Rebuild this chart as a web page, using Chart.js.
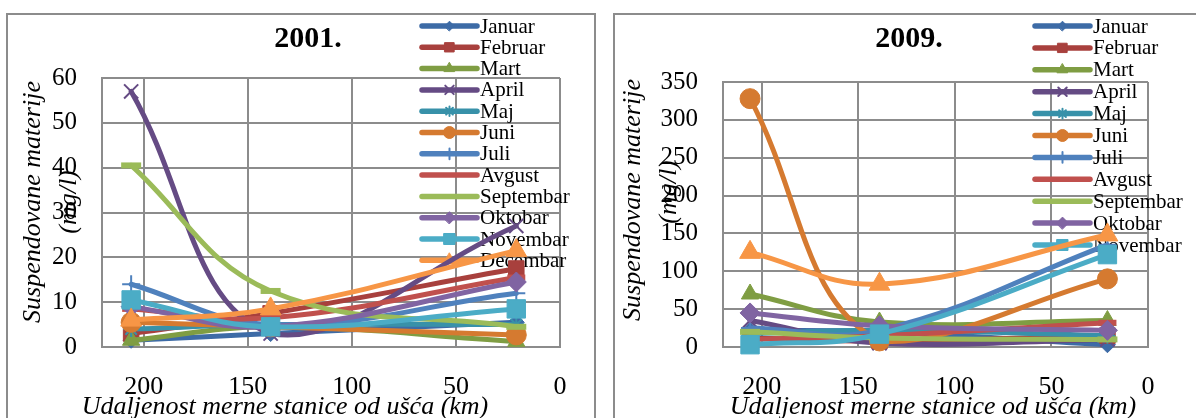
<!DOCTYPE html>
<html>
<head>
<meta charset="utf-8">
<script src="https://cdn.jsdelivr.net/npm/chart.js"></script>
<style>
  html, body { margin: 0; padding: 0; background: #fff; overflow: hidden; }
  body { width: 1196px; height: 418px; position: relative; }
  .okvir { position: absolute; border: 2px solid #8c8c8c; box-sizing: border-box; }
  canvas { position: absolute; top: 0; }
</style>
</head>
<body>
<div class="okvir" style="left:6px; top:13px; width:590px; height:420px;"></div>
<div class="okvir" style="left:613px; top:13px; width:600px; height:420px;"></div>
<canvas id="grafik2001" width="598" height="418" style="left:0"></canvas>
<canvas id="grafik2009" width="598" height="418" style="left:598px"></canvas>

<script>
// merne stanice, udaljenost od ušća (km)
const stanice = [206, 139, 21];
const meseci = ['Januar', 'Februar', 'Mart', 'April', 'Maj', 'Juni', 'Juli',
                'Avgust', 'Septembar', 'Oktobar', 'Novembar', 'Decembar'];

// suspendovane materije (mg/l) - 2001.
const januar2001    = [1.5, 3, 5.5];
const februar2001   = [3, 7.5, 17.5];
const mart2001      = [1.5, 4.5, 1.2];
const april2001     = [57, 3, 27];
const maj2001       = [4, 5, 5];
const juni2001      = [5.5, 4.5, 2.7];
const juli2001      = [14, 5, 12];
const avgust2001    = [8.5, 6.5, 15.5];
const septembar2001 = [40.5, 12.5, 4.5];
const oktobar2001   = [9, 4.5, 14.5];
const novembar2001  = [10.5, 4.5, 8.5];
const decembar2001  = [6, 8.5, 21.5];

// suspendovane materije (mg/l) - 2009.
const januar2009    = [22, 20, 3];
const februar2009   = [12, 8, 15];
const mart2009      = [70, 33, 35];
const april2009     = [35, 5, 10];
const maj2009       = [18, 22, 15];
const juni2009      = [328, 8, 90];
const juli2009      = [25, 22, 135];
const avgust2009    = [10, 15, 32];
const septembar2009 = [20, 12, 10];
const oktobar2009   = [45, 28, 22];
const novembar2009  = [3, 17, 122];
const decembar2009  = [125, 83, 148];

const serije2001 = [januar2001, februar2001, mart2001, april2001, maj2001, juni2001,
                    juli2001, avgust2001, septembar2001, oktobar2001, novembar2001, decembar2001];
const serije2009 = [januar2009, februar2009, mart2009, april2009, maj2009, juni2009,
                    juli2009, avgust2009, septembar2009, oktobar2009, novembar2009, decembar2009];

const boje = ['#3d6ba6', '#a8403d', '#7f9d43', '#654b84', '#3891a9', '#d57a30',
              '#4f81bd', '#c0504d', '#9bbb59', '#8064a2', '#4bacc6', '#f79646'];
const markeri = ['rectRot', 'rect', 'triangle', 'crossRot', 'star', 'circle',
                 'cross', 'line', 'line', 'rectRot', 'rect', 'triangle'];
const velicine = [8, 11, 10, 10, 8, 10, 9, 9, 10, 10, 13, 12];
const debljine = [1, 1, 1, 2, 2, 1, 2, 6, 6, 1, 1, 1];

const FONT = '"Liberation Serif", "Times New Roman", serif';

// naslovi, legenda i nazivi osa
const ukras = {
  id: 'ukras',
  beforeDatasetsDraw(chart, args, o) {
    const ctx = chart.ctx;
    ctx.save();
    ctx.font = '21px ' + FONT;
    ctx.textBaseline = 'middle';
    ctx.textAlign = 'left';
    chart.data.datasets.slice(0, o.legendaBroj).forEach((ds, i) => {
      const y = o.legendaY + i * o.legendaKorak;
      ctx.strokeStyle = ds.borderColor;
      ctx.fillStyle = ds.borderColor;
      ctx.lineWidth = 5.5;
      ctx.lineCap = 'round';
      ctx.beginPath();
      ctx.moveTo(o.legendaX, y);
      ctx.lineTo(o.legendaX + 55, y);
      ctx.stroke();
      ctx.lineWidth = Math.min(ds.pointBorderWidth, 2);
      Chart.helpers.drawPoint(ctx, {
        pointStyle: ds.pointStyle,
        radius: ds.pointRadius * 0.6,
        borderWidth: ctx.lineWidth,
        rotation: 0
      }, o.legendaX + 27.5, y);
      ctx.fillStyle = '#000';
      ctx.fillText(ds.label, o.legendaX + 58, y + 1);
    });
    ctx.restore();
  },
  afterDraw(chart, args, o) {
    const ctx = chart.ctx;
    ctx.save();
    ctx.fillStyle = '#000';
    ctx.textAlign = 'center';
    ctx.textBaseline = 'alphabetic';

    ctx.font = 'bold 30px ' + FONT;
    ctx.fillText(o.naslov, o.naslovX, 47);

    ctx.font = 'italic 26px ' + FONT;
    ctx.fillText('Udaljenost merne stanice od ušća (km)', o.xNazivX, 414);

    ctx.translate(o.yNazivX, o.yNazivY);
    ctx.rotate(-Math.PI / 2);
    ctx.fillText('Suspendovane materije', 0, 0);
    ctx.fillText('(mg/l)', o.yNaziv2dy, o.yNaziv2);
    ctx.restore();
  }
};

function nacrtaj(id, serije, yMax, yKorak, podesavanja) {
  const ctx = document.getElementById(id).getContext('2d');
  const datasets = serije.map((vrednosti, i) => ({
    label: meseci[i],
    data: vrednosti.map((v, j) => ({ x: stanice[j], y: v })),
    borderColor: boje[i],
    backgroundColor: boje[i],
    pointBackgroundColor: boje[i],
    pointBorderColor: boje[i],
    pointStyle: markeri[i],
    pointRadius: velicine[i],
    pointBorderWidth: debljine[i],
    borderWidth: 5,
    borderCapStyle: 'round',
    borderJoinStyle: 'round',
    tension: 0.4,
    clip: false,
    order: serije.length - i
  }));

  const tickFont = { family: FONT, size: 25 };

  return new Chart(ctx, {
    type: 'line',
    data: { datasets: datasets },
    options: {
      responsive: false,
      animation: false,
      events: [],
      layout: {
        padding: { left: 0, top: podesavanja.vrh, right: podesavanja.desno, bottom: 418 - 347 - 50 }
      },
      plugins: {
        legend: { display: false },
        tooltip: { enabled: false },
        ukras: podesavanja
      },
      scales: {
        x: {
          type: 'linear',
          reverse: true,
          min: 0,
          max: 220,
          afterFit: s => { s.height = 50; },
          grid: { color: '#8c8c8c', lineWidth: 2, drawTicks: false },
          border: { color: '#8c8c8c', width: 2 },
          ticks: {
            stepSize: 50,
            includeBounds: false,
            padding: 25,
            maxRotation: 0,
            color: '#000',
            font: { family: FONT, size: 26 }
          }
        },
        y: {
          min: 0,
          max: yMax,
          afterFit: s => { s.width = podesavanja.levo; },
          grid: { color: '#8c8c8c', lineWidth: 2, drawTicks: false },
          border: { color: '#8c8c8c', width: 2 },
          ticks: {
            stepSize: yKorak,
            padding: 25,
            color: '#000',
            font: tickFont
          }
        }
      }
    },
    plugins: [ukras]
  });
}

nacrtaj('grafik2001', serije2001, 60, 10, {
  vrh: 78, levo: 102, desno: 38,
  naslov: '2001.', naslovX: 308,
  xNazivX: 285,
  yNazivX: 40, yNazivY: 202, yNaziv2dy: 0, yNaziv2: 36,
  legendaBroj: 12, legendaX: 422, legendaY: 26, legendaKorak: 21.3
});

nacrtaj('grafik2009', serije2009, 350, 50, {
  vrh: 82, levo: 125, desno: 48,
  naslov: '2009.', naslovX: 311,
  xNazivX: 335,
  yNazivX: 42, yNazivY: 200, yNaziv2dy: 8, yNaziv2: 36,
  legendaBroj: 11, legendaX: 437, legendaY: 26, legendaKorak: 21.9
});
</script>
</body>
</html>
